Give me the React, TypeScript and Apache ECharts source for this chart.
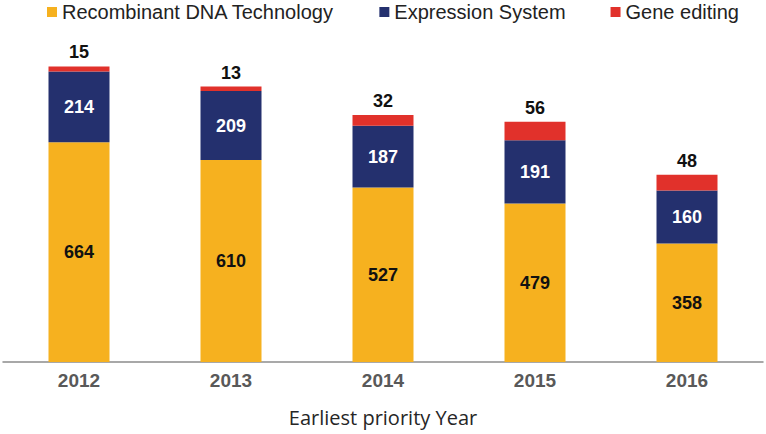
import React, { useEffect, useRef } from "react";
import * as echarts from "echarts";

const years = ["2012", "2013", "2014", "2015", "2016"];
const recombinant = [664, 610, 527, 479, 358];
const expression = [214, 209, 187, 191, 160];
const geneEditing = [15, 13, 32, 56, 48];

const seriesNames = ["Recombinant DNA Technology", "Expression System", "Gene editing"];
const colors = ["#F6B11F", "#24306E", "#E1312B"];
const axisTitle = "Earliest priority Year";

export default function App() {
  const ref = useRef<HTMLDivElement>(null);
  useEffect(() => {
    if (!ref.current) return;
    const chart = echarts.init(ref.current, null, { renderer: "svg" });
    const numLabel = (color: string, position: string) => ({
      show: true,
      position,
      color,
      fontFamily: "Liberation Sans, Arial, sans-serif",
      fontWeight: "bold",
      fontSize: 18,
    });
    chart.setOption({
      animation: false,
      legend: {
        left: 42,
        top: -3,
        itemWidth: 10,
        itemHeight: 10,
        itemGap: 45,
        icon: "rect",
        textStyle: {
          fontFamily: "Liberation Sans, Arial, sans-serif",
          fontSize: 20,
          color: "#222",
        },
        data: seriesNames,
      },
      grid: { left: 3, right: 3, top: 31, bottom: 72, containLabel: false, outerBoundsMode: "none" },
      xAxis: {
        type: "category",
        data: years,
        axisLine: { show: true, lineStyle: { color: "#8c8c8c", width: 1.5 } },
        axisTick: { show: false },
        axisLabel: {
          margin: 9,
          color: "#595959",
          fontFamily: "Liberation Sans, Arial, sans-serif",
          fontWeight: "bold",
          fontSize: 19,
        },
        name: axisTitle,
        nameLocation: "middle",
        nameGap: 45,
        nameTextStyle: {
          fontFamily: "Open Sans, sans-serif",
          fontSize: 20,
          color: "#262626",
        },
      },
      yAxis: {
        type: "value",
        min: 0,
        max: 1000,
        show: false,
        splitLine: { show: false },
      },
      series: [
        {
          name: seriesNames[0],
          type: "bar",
          stack: "total",
          data: recombinant,
          barWidth: 61,
          itemStyle: { color: colors[0] },
          label: numLabel("#111", "inside"),
        },
        {
          name: seriesNames[1],
          type: "bar",
          stack: "total",
          data: expression,
          barWidth: 61,
          itemStyle: { color: colors[1] },
          label: numLabel("#fff", "inside"),
        },
        {
          name: seriesNames[2],
          type: "bar",
          stack: "total",
          data: geneEditing,
          barWidth: 61,
          itemStyle: { color: colors[2] },
          label: numLabel("#111", "top"),
        },
      ],
    });
    return () => chart.dispose();
  }, []);
  return <div ref={ref} style={{ width: 766, height: 434, position: "absolute", left: 0, top: 0 }} />;
}
